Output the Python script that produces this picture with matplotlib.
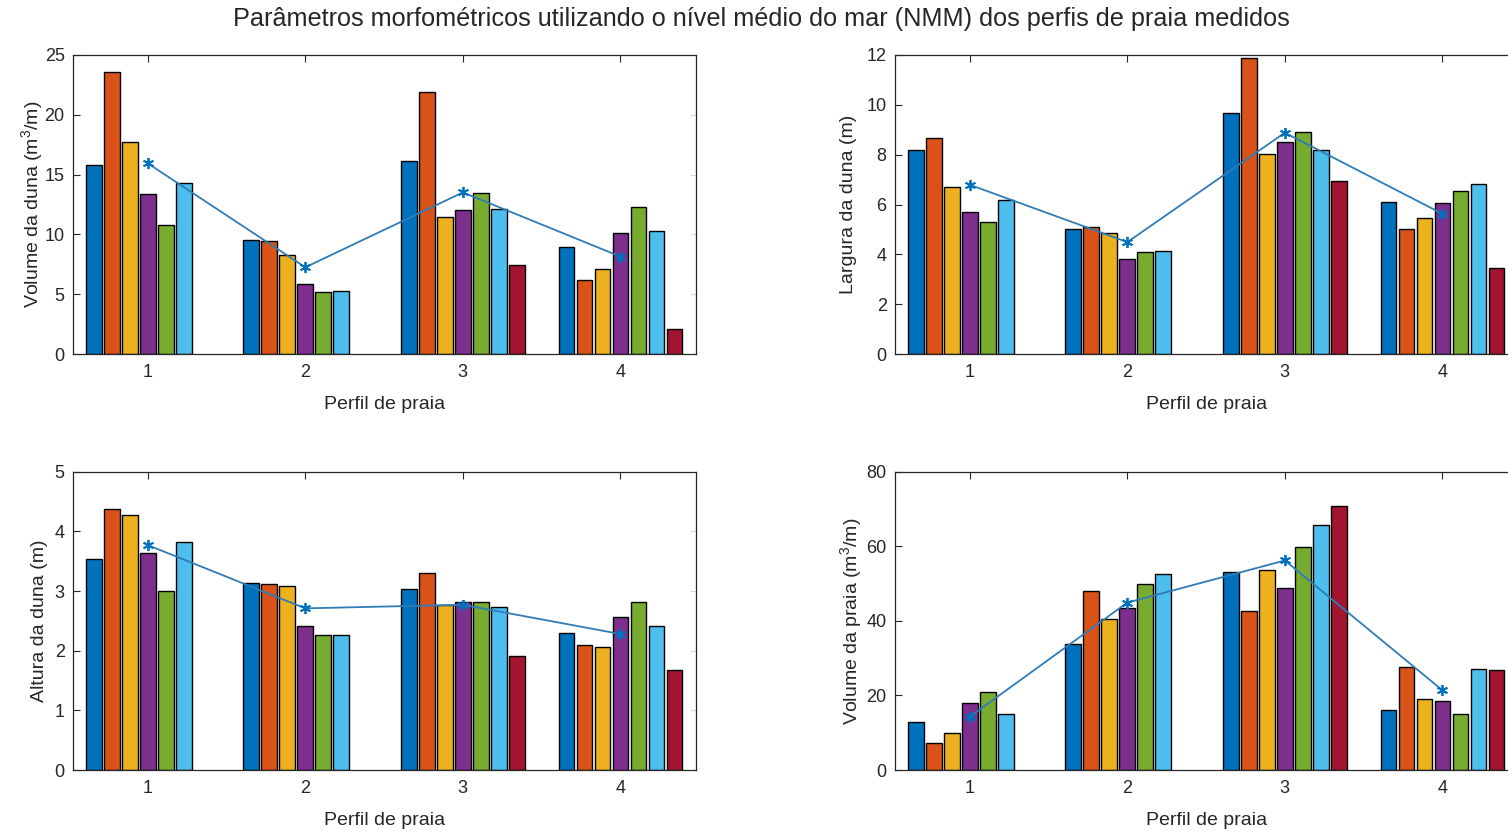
import numpy as np
import matplotlib
matplotlib.use("Agg")
import matplotlib.pyplot as plt

plt.rcParams['font.family'] = ['Liberation Sans', 'DejaVu Sans']
plt.rcParams['mathtext.fontset'] = 'custom'
plt.rcParams['mathtext.rm'] = 'Liberation Sans'
plt.rcParams['mathtext.it'] = 'Liberation Sans:italic'

perfis = [1, 2, 3, 4]
cores = ['#0072BD', '#D95319', '#EDB120', '#7E2F8E', '#77AC30', '#4DBEEE', '#A2142F']
nan = np.nan

# cada linha = um perfil, cada coluna = um levantamento
vol_duna = [[15.8, 23.6, 17.75, 13.4, 10.8, 14.3, nan],
            [9.53, 9.42, 8.25, 5.85, 5.16, 5.3, nan],
            [16.1, 21.9, 11.45, 12.04, 13.5, 12.15, 7.44],
            [8.95, 6.22, 7.11, 10.12, 12.26, 10.31, 2.09]]
vol_duna_media = [15.94, 7.25, 13.51, 8.15]

larg_duna = [[8.19, 8.68, 6.70, 5.71, 5.28, 6.17, nan],
             [5.0, 5.11, 4.84, 3.80, 4.08, 4.12, nan],
             [9.68, 11.87, 8.03, 8.52, 8.91, 8.19, 6.93],
             [6.10, 5.0, 5.44, 6.05, 6.54, 6.81, 3.45]]
larg_duna_media = [6.79, 4.49, 8.88, 5.63]

alt_duna = [[3.54, 4.38, 4.27, 3.63, 3.0, 3.83, nan],
            [3.14, 3.12, 3.08, 2.41, 2.27, 2.27, nan],
            [3.03, 3.30, 2.77, 2.82, 2.82, 2.73, 1.905],
            [2.30, 2.09, 2.06, 2.57, 2.82, 2.41, 1.676]]
alt_duna_media = [3.77, 2.71, 2.77, 2.28]

vol_praia = [[12.87, 7.37, 9.92, 17.97, 20.9, 15.1, nan],
             [33.9, 48.1, 40.4, 43.4, 49.9, 52.6, nan],
             [53.2, 42.6, 53.6, 48.9, 59.9, 65.7, 70.9],
             [16.2, 27.6, 19.1, 18.4, 15.1, 27.2, 26.8]]
vol_praia_media = [14.3, 44.9, 56.2, 21.4]

paineis = [
    (vol_duna, vol_duna_media, r'Volume da duna (m$^{3}$/m)', (0, 25), [0, 5, 10, 15, 20, 25], 0),
    (larg_duna, larg_duna_media, 'Largura da duna (m)', (0, 12), [0, 2, 4, 6, 8, 10, 12], 7),
    (alt_duna, alt_duna_media, 'Altura da duna (m)', (0, 5), [0, 1, 2, 3, 4, 5], 5),
    (vol_praia, vol_praia_media, r'Volume da praia (m$^{3}$/m)', (0, 80), [0, 20, 40, 60, 80], 2),
]

# posicoes [esq, base, largura, altura] em fracao da figura
posicoes = [[0.0484, 0.5745, 0.4131, 0.3594],
            [0.5935, 0.5745, 0.4131, 0.3594],
            [0.0484, 0.0745, 0.4131, 0.3585],
            [0.5935, 0.0745, 0.4131, 0.3585]]

cinza = '#262626'
fig = plt.figure(figsize=(15.08, 8.32), dpi=100)

for (dados, media, ylab, ylim, yticks, lpad), pos in zip(paineis, posicoes):
    ax = fig.add_axes(pos)
    dados = np.array(dados)
    nb = dados.shape[1]
    gw = 0.8
    passo = gw / nb
    x = np.array(perfis, dtype=float)
    for j in range(nb):
        xs = x - gw / 2 + passo * (j + 0.5)
        ax.bar(xs, dados[:, j], width=passo * 0.87, color=cores[j],
               edgecolor='black', linewidth=1.0, zorder=2)
    ax.plot(x, media, '-', color='#2f7cb6', linewidth=1.3, zorder=3)
    ax.plot(x, media, linestyle='none', marker=(6, 2, 0), color='#0072BD',
            markersize=8, markeredgewidth=1.3, zorder=4)
    ax.set_xlim(0.525, 4.48)
    ax.set_ylim(*ylim)
    ax.set_xticks(perfis)
    ax.set_yticks(yticks)
    ax.tick_params(axis='both', direction='in', length=5, width=0.8,
                   colors=cinza, labelsize=13, labelcolor=cinza, top=True)
    ax.tick_params(axis='y', pad=6)
    ax.tick_params(axis='x', pad=7)
    # marcas do lado direito quase apagadas
    for yt in yticks[1:-1]:
        ax.plot([4.48 - 0.03, 4.48], [yt, yt], color='#d8d8d8', linewidth=0.8,
                clip_on=False, zorder=1)
    for s in ax.spines.values():
        s.set_color(cinza)
        s.set_linewidth(0.9)
    ax.set_xlim(0.525, 4.48)
    ax.set_xlabel('Perfil de praia', fontsize=14, color=cinza, labelpad=11)
    ax.set_ylabel(ylab, fontsize=14, color=cinza, labelpad=lpad)

fig.text(0.505, 0.977, 'Parâmetros morfométricos utilizando o nível médio do mar (NMM) dos perfis de praia medidos',
         ha='center', va='center', fontsize=18.2, color=cinza)

fig.savefig('out.png', dpi=100)
